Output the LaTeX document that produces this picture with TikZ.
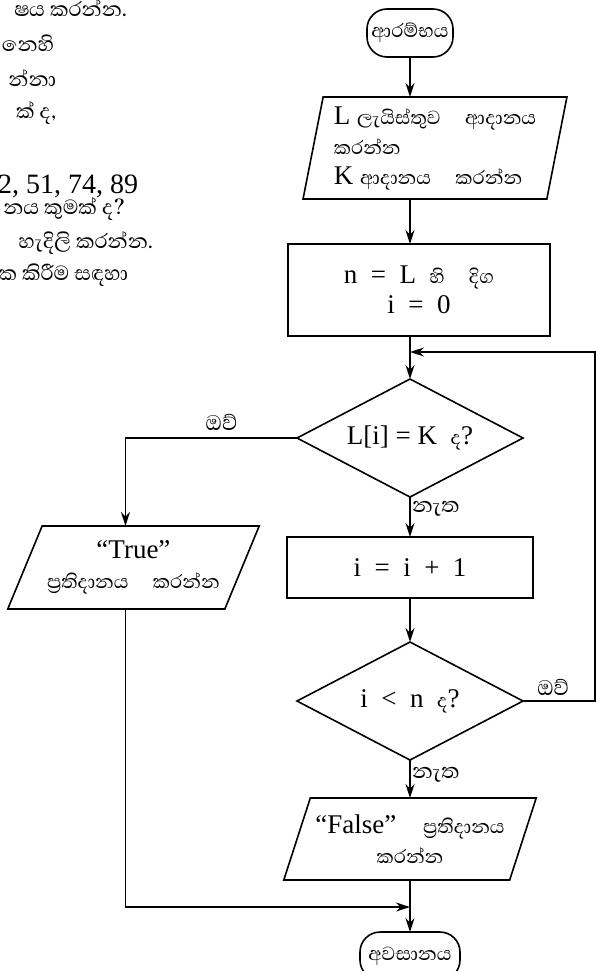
\documentclass[tikz,border=0pt]{standalone}
\usepackage{fontspec}
\setmainfont{Liberation Serif}
\newfontfamily\sinfont[Script=Sinhala,Scale=0.9]{Abhaya Libre}
\newcommand{\snh}[1]{{\sinfont #1}}
\usetikzlibrary{arrows.meta}
\usetikzlibrary{positioning}
\usetikzlibrary{shapes.geometric}

\begin{document}
\begin{tikzpicture}[->,>={Stealth[length=14pt,width=9pt]},line width=1.6pt,
  x=1pt,y=-1pt,font=\fontsize{27}{30}\selectfont,every node/.style={outer sep=0pt},
  term/.style={rectangle,rounded corners=20pt,draw,inner sep=4pt,minimum height=48pt},
  iobox/.style={trapezium,trapezium stretches=true,draw,inner sep=2pt},
  procbox/.style={rectangle,draw,inner sep=0pt},
  decision/.style={diamond,aspect=2,draw,inner sep=0pt,minimum width=226pt,minimum height=118pt},
  branch/.style={font=\fontsize{30}{34}\selectfont,inner sep=2pt},
  frag/.style={anchor=base east,inner sep=0pt,font=\fontsize{29}{32}\selectfont}]

  \useasboundingbox (0,0) rectangle (596,971);

  % text of the page beside the chart
  \node[frag] (q1) at (127,17) {\snh{ෂය කරන්න.}};
  \node[frag] (q2) at (54,52) {\snh{නෙහි}};
  \node[frag] (q3) at (56,87) {\snh{න්නා}};
  \node[frag] (q4) at (56,119) {\snh{ක් ද,}};
  \node[frag,font=\fontsize{28}{32}\selectfont] (q5) at (138,193) {92, 51, 74, 89};
  \node[frag] (q6) at (125,214) {\snh{නය කුමක් ද?}};
  \node[frag] (q7) at (153,248) {\snh{හැදිලි කරන්න.}};
  \node[frag] (q8) at (128,280) {\snh{ක කිරීම සඳහා}};

  % main column
  \node[term,minimum width=86pt] (start) at (410,33) {\snh{ආරම්භය}};
  \node[iobox,trapezium left angle=78,trapezium right angle=102,minimum width=264pt,
    minimum height=102pt,align=left,below=40pt of start,xshift=25pt] (input)
    {L \snh{ලැයිස්තුව\quad ආදානය}\\\snh{කරන්න}\\K \snh{ආදානය\quad කරන්න}};
  \node[procbox,minimum width=262pt,minimum height=92pt,align=center,
    below=45pt of input,xshift=-16pt] (init)
    {n\enspace=\enspace L\enspace\snh{හි\quad දිග}\\i\enspace=\enspace 0};
  \node[decision,below=43pt of init,xshift=-9pt] (check) {L[i] = K\enspace\snh{ද}?};
  \node[procbox,minimum width=246pt,minimum height=61pt,below=40pt of check] (incr)
    {i\enspace=\enspace i\enspace+\enspace 1};
  \node[decision,below=44pt of incr] (test) {i\enspace<\enspace n\enspace\snh{ද}?};
  \node[iobox,trapezium left angle=64,trapezium right angle=116,minimum width=253pt,
    minimum height=82pt,align=center,below=38pt of test] (nofound)
    {“False”\quad\snh{ප්^^^^200dරතිදානය}\\\snh{කරන්න}};
  \node[term,minimum width=100pt,below=52pt of nofound] (stop) {\snh{අවසානය}};

  % branch for a match
  \node[iobox,trapezium left angle=60,trapezium right angle=120,minimum width=252pt,
    minimum height=83pt,align=center,left=45pt of incr] (found)
    {“True”\\\snh{ප්^^^^200dරතිදානය\quad කරන්න}};

  \coordinate (back) at (595,352);
  \coordinate[below=27pt of nofound] (merge);

  \draw (start) -- (start |- input.north);
  \draw (start |- input.south) -- (start |- init.north);
  \draw (check |- init.south) -- (check);
  \draw (test.east) -- node[pos=0.42,above=4pt,branch] {\snh{ඔව්}} (test.east -| back)
    -- (back) -- (check |- back);
  \draw (check.west) -| node[pos=0.22,above=6pt,branch] {\snh{ඔව්}} ([xshift=-8pt]found.north);
  \draw (check) -- node[pos=0.3,right,branch] {\snh{නැත}} (incr);
  \draw (incr) -- (test);
  \draw (test) -- node[pos=0.4,right,branch] {\snh{නැත}} (nofound);
  \draw (nofound) -- (stop);
  \draw ([xshift=-8pt]found.south) |- (merge);
\end{tikzpicture}
\end{document}
